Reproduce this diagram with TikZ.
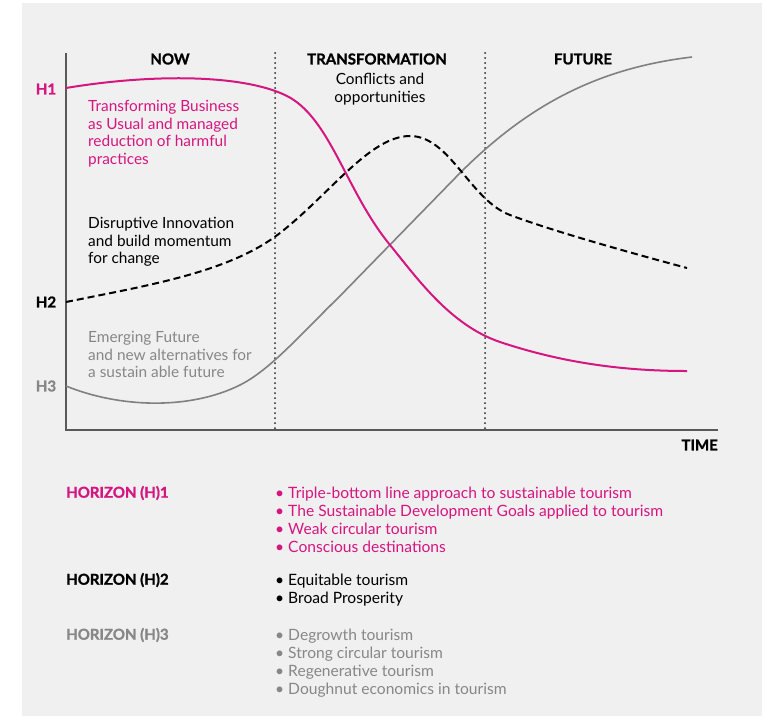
\documentclass[tikz,border=0pt]{standalone}
\usepackage{fontspec}
\setmainfont{Lato}[BoldFeatures={FakeBold=1.2}]
\definecolor{hmag}{RGB}{214,22,128}
\definecolor{hgray}{RGB}{135,135,135}
\definecolor{hbg}{RGB}{240,240,240}

\begin{document}
\begin{tikzpicture}[x=1pt,y=-1pt,
  txt/.style={inner sep=0pt,align=left,anchor=north west,font=\fontsize{15.4}{17.6}\selectfont},
  lst/.style={inner sep=0pt,align=left,anchor=north west,font=\fontsize{15.6}{17.8}\selectfont},
  head/.style={inner sep=0pt,font=\fontsize{15}{18}\selectfont\bfseries},
  axe/.style={line width=1.2pt,draw=black!65},
  sep/.style={line width=2pt,draw=black!85,line cap=round,dash pattern=on 0pt off 5pt},
  curveone/.style={line width=2pt,draw=hmag},
  curvetwo/.style={line width=2pt,draw=black,dash pattern=on 7pt off 4pt},
  curvethree/.style={line width=1.6pt,draw=black!50}]
\useasboundingbox (0,0) rectangle (765,718);
\fill[white] (0,0) rectangle (765,718);
\fill[hbg] (22,3) rectangle (762,716);

% axes and phases
\coordinate (top) at (66,53);
\coordinate (origin) at (66,430);
\coordinate (end) at (718,430);
\draw[axe] (top) -- (origin) -- (end);
\coordinate (sepa) at (275,53);
\coordinate (sepab) at (275,431);
\coordinate (sepb) at (485,53);
\coordinate (sepbb) at (485,431);
\draw[sep] (sepa) -- (sepab);
\draw[sep] (sepb) -- (sepbb);

\node[head] (now) at (170,59) {NOW};
\node[head] (trans) at (377,59) {TRANSFORMATION};
\node[head] (future) at (583,59) {FUTURE};
\node[inner sep=0pt,align=center,font=\fontsize{15.4}{18.5}\selectfont] (conflicts) at (380,89) {Conflicts and\\opportunities};
\node[head,anchor=east] (time) at (718,445) {TIME};

\node[head,text=hmag] (h1) at (46,89) {H1};
\node[head] (h2) at (46,302) {H2};
\node[head,text=hgray] (h3) at (46,386) {H3};

% curves
\draw[curvethree] (66,386) .. controls (120,408) and (190,410) .. (240,385)
  .. controls (270,370) and (300,335) .. (340,296) -- (460,173)
  .. controls (530,103) and (600,68) .. (692,57);
\draw[curvetwo] (66,302) .. controls (150,285) and (230,272) .. (280,233)
  .. controls (330,194) and (370,136) .. (410,136)
  .. controls (450,136) and (470,200) .. (510,215)
  .. controls (550,230) and (620,250) .. (687,268);
\draw[curveone] (66,88) .. controls (150,74) and (240,74) .. (285,95)
  .. controls (330,116) and (345,190) .. (390,245)
  .. controls (417,278) and (450,325) .. (500,342)
  .. controls (560,362) and (620,371) .. (687,371);

% labels in the chart
\node[txt,text=hmag] (bau) at (88,100) {Transforming Business\\as Usual and managed\\reduction of harmful\\practices};
\node[txt] (disrupt) at (88,217) {Disruptive Innovation\\and build momentum\\for change};
\node[txt,text=hgray] (emerging) at (88,331) {Emerging Future\\and new alternatives for\\a sustain able future};

% horizons
\node[head,anchor=west,text=hmag] (hzone) at (66,493) {HORIZON (H)1};
\node[head,anchor=west] (hztwo) at (66,580) {HORIZON (H)2};
\node[head,anchor=west,text=hgray] (hzthree) at (66,635) {HORIZON (H)3};
\node[lst,text=hmag] (listone) at (275,487) {• Triple-bottom line approach to sustainable tourism\\• The Sustainable Development Goals applied to tourism\\• Weak circular tourism\\• Conscious destinations};
\node[lst] (listtwo) at (275,574) {• Equitable tourism\\• Broad Prosperity};
\node[lst,text=hgray] (listthree) at (275,629) {• Degrowth tourism\\• Strong circular tourism\\• Regenerative tourism\\• Doughnut economics in tourism};
\end{tikzpicture}
\end{document}
